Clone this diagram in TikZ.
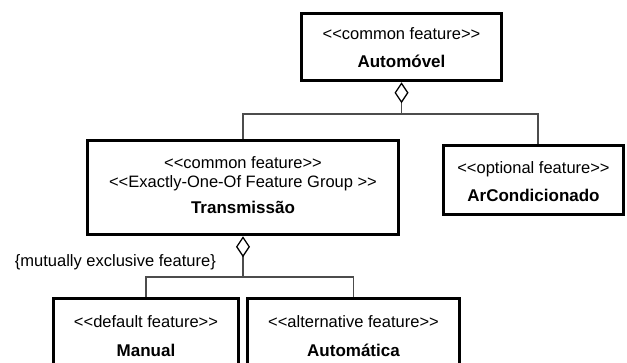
\documentclass[tikz,border=0pt]{standalone}
\usepackage{fontspec}
\setmainfont{Liberation Sans}[Ligatures=TeXOff]
\usetikzlibrary{arrows.meta}

% text sizes: stereotype lines and feature names
\newcommand{\reg}{\fontsize{16.5}{19}\selectfont}
\newcommand{\bld}{\fontsize{17}{19}\selectfont\bfseries}
\newcommand{\stereo}[1]{<<#1>>}
% two- or three-line feature label, shifted vertically inside its box
\newcommand{\ftext}[2]{\raisebox{#1}[\height][\depth]{\begin{tabular}{@{}c@{}}#2\end{tabular}}}

\tikzset{
  feat/.style={rectangle, draw=black, line width=3.5pt, inner sep=0pt, font=\reg},
  conn/.style={draw=black!70, line width=1.3pt},
  aggr/.style={-{Diamond[open, fill=white, color=black, length=21pt, width=14pt, line width=1.3pt]}},
  lbl/.style={font=\reg, inner sep=0pt}
}

\begin{document}
\begin{tikzpicture}[x=1pt, y=-1pt]
  \useasboundingbox (0,0) rectangle (627,362);

  % feature boxes
  \node[feat, minimum width=200pt, minimum height=67pt] (auto) at (401.5,47)
    {\ftext{-2.2pt}{\stereo{common feature}\\[9pt]\bld Automóvel}};
  \node[feat, minimum width=311pt, minimum height=94pt] (trans) at (243,187.5)
    {\ftext{0pt}{\stereo{common feature}\\\stereo{Exactly-One-Of Feature Group }\\[7pt]\bld Transmissão}};
  \node[feat, minimum width=180pt, minimum height=69pt] (ar) at (533.5,180)
    {\ftext{-4pt}{\stereo{optional feature}\\[9pt]\bld ArCondicionado}};
  \node[feat, minimum width=185pt, minimum height=78.4pt] (manual) at (146,337.7)
    {\ftext{0pt}{\stereo{default feature}\\[10pt]\bld Manual}};
  \node[feat, minimum width=212pt, minimum height=78.4pt] (autom) at (353.5,337.7)
    {\ftext{0pt}{\stereo{alternative feature}\\[10pt]\bld Automática}};

  % junction points of the two aggregation trees
  \path (auto.south) ++(0,31.75) coordinate (j1);
  \path (trans.south) ++(0,40.75) coordinate (j2);

  % Automóvel and its sub-features
  \draw[conn] (trans.north) |- (j1) -| ([xshift=4.5pt]ar.north);
  \draw[conn, aggr] (j1) -- (auto.south);

  % Transmissão and its alternatives
  \draw[conn] (manual.north) |- (j2) -| (autom.north);
  \draw[conn, aggr] (j2) -- (trans.south);

  \node[lbl, anchor=base east] (mx) at (216,266) {\{mutually exclusive feature\}};
\end{tikzpicture}
\end{document}
